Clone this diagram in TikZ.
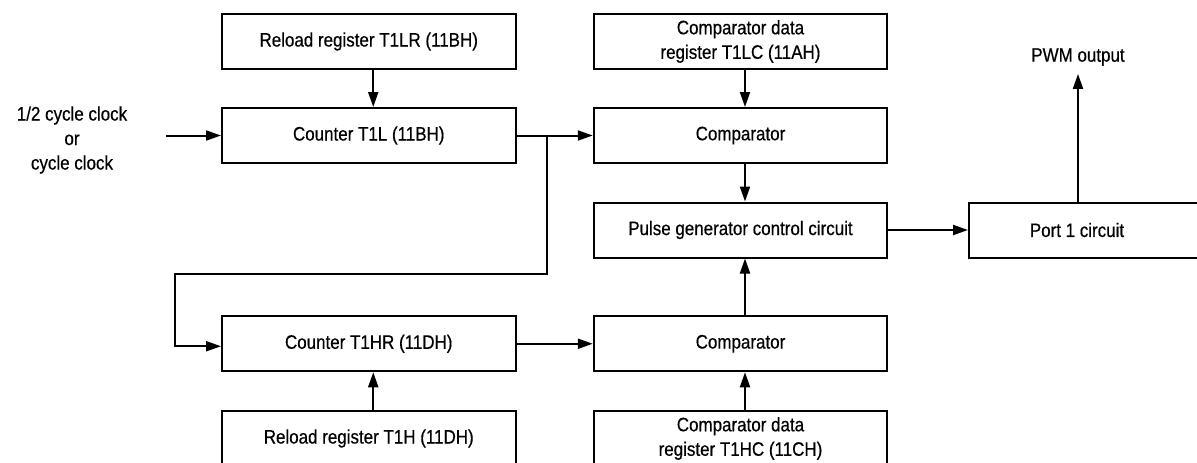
\documentclass[tikz,border=0pt]{standalone}
\usepackage{fontspec}
\setmainfont{Liberation Sans}[FakeStretch=0.87,FakeBold=0.5]
\usetikzlibrary{arrows.meta,calc}
\begin{document}
\begin{tikzpicture}[x=1pt,y=-1pt,
  every node/.style={font=\fontsize{19.5}{24.5}\selectfont},
  box/.style={draw,line width=2pt,minimum width=293.5pt,minimum height=55pt,inner sep=0pt,align=center},
  lbl/.style={inner sep=0pt,align=center},
  arr/.style={line width=2pt,-{Triangle[length=15pt,width=10pt]}},
  wire/.style={line width=2pt}]
\useasboundingbox (0,0) rectangle (1197,463);
% left column
\node[box] (rl)   at (368.75,41.5)  {Reload register T1LR (11BH)};
\node[box] (c1l)  at (368.75,135.5) {Counter T1L (11BH)};
\node[box] (t1hr) at (368.75,343.75) {Counter T1HR (11DH)};
\node[box] (rh)   at (368.75,438.5) {Reload register T1H (11DH)};
% middle column
\node[box] (cdl)  at (740.5,41.5)  {Comparator data\\register T1LC (11AH)};
\node[box] (cmp1) at (740.5,135.5) {Comparator};
\node[box] (pgc)  at (740.5,230)   {Pulse generator control circuit};
\node[box] (cmp2) at (740.5,343.75) {Comparator};
\node[box] (cdh)  at (740.5,438.5) {Comparator data\\register T1HC (11CH)};
% right
\node[box,minimum width=300pt,anchor=west] (port) at (968,230) {\makebox[216pt]{Port 1 circuit}\hspace*{84pt}};
\node[lbl] (pwm) at (1078,57) {PWM output};
\node[lbl] (clk) at (72,140) {1/2 cycle clock\\or\\cycle clock};
% connectors
\coordinate (clkin) at (166,135.5);
\draw[arr] (clkin) -- (c1l.west);
\draw[arr] ([xshift=4.5pt]rl.south) -- ([xshift=4.5pt]c1l.north);
\draw[arr] (c1l.east) -- (cmp1.west);
\coordinate (j1) at (547,135.5);
\coordinate (fb1) at (547,274);
\coordinate (fb2) at (175,274);
\draw[arr] (j1) -- (fb1) -- (fb2) |- ([yshift=-2.5pt]t1hr.west);
\draw[arr] ([xshift=4.5pt]cdl.south) -- ([xshift=4.5pt]cmp1.north);
\draw[arr] ([xshift=4.5pt]cmp1.south) -- ([xshift=4.5pt]pgc.north);
\draw[arr] (pgc.east) -- (port.west);
\draw[arr] (port.north -| pwm.south) -- ([yshift=-8pt]pwm.south);
\draw[arr] (t1hr.east) -- (cmp2.west);
\draw[arr] ([xshift=4.5pt]cmp2.north) -- ([xshift=4.5pt]pgc.south);
\draw[arr] ([xshift=4.5pt]rh.north) -- ([xshift=4.5pt]t1hr.south);
\draw[arr] ([xshift=4.5pt]cdh.north) -- ([xshift=4.5pt]cmp2.south);
\end{tikzpicture}
\end{document}
